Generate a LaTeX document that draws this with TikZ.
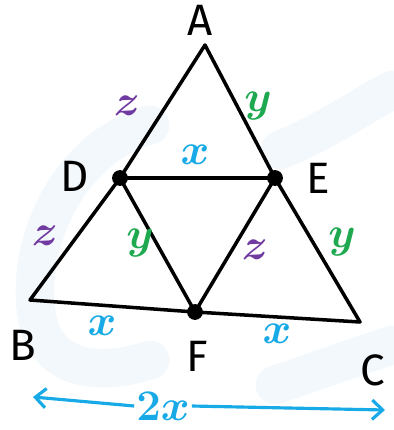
\documentclass[tikz,border=0pt]{standalone}
\usepackage{fontspec}
\setsansfont{Fira Sans}
\usetikzlibrary{positioning,arrows.meta,calc}

\definecolor{zpurple}{RGB}{112,58,160}
\definecolor{ygreen}{RGB}{30,168,80}
\definecolor{xblue}{RGB}{24,170,230}
\definecolor{mark}{RGB}{243,248,252}

\begin{document}
\begin{tikzpicture}[x=0.02cm, y=-0.02cm,
    every node/.style={font=\sffamily\fontsize{25}{28}\selectfont},
    side/.style={line width=2pt, line cap=round, line join=round},
    dot/.style={circle, fill=black, inner sep=0pt, minimum size=9pt},
    zlab/.style={text=zpurple, font=\boldmath\fontsize{27}{28}\selectfont},
    ylab/.style={text=ygreen, font=\boldmath\fontsize{27}{28}\selectfont},
    xlab/.style={text=xblue, font=\boldmath\fontsize{27}{28}\selectfont},
    watermark/.style={draw=mark, line width=22pt, line cap=round},
    >={Straight Barb[length=6pt, width=11pt]}
]
  \useasboundingbox (0,0) rectangle (393,430);

  % faint logo behind the figure
  \draw[watermark] (150,125) .. controls (60,150) and (20,260) .. (40,330)
                   .. controls (60,380) and (120,370) .. (150,360);
  \draw[watermark] (280,150) .. controls (330,130) and (370,100) .. (393,90);
  \draw[watermark] (275,385) .. controls (320,370) and (360,355) .. (393,345);

  % vertices
  \coordinate (A) at (205,45);
  \coordinate (B) at (30,300);
  \coordinate (C) at (360,322);
  \node[dot] (D) at (120,178) {};
  \node[dot] (E) at (275,178) {};
  \node[dot] (F) at (195,312) {};

  \draw[side] (A.center) -- (D.center) -- (B.center)
              -- (F.center) -- (C.center) -- (E.center) -- cycle;
  \draw[side] (D.center) -- (E.center);
  \draw[side] (D.center) -- (F.center) -- (E.center);

  % vertex names
  \node (lA) at (200,20) {A};
  \node (lB) at (23,345) {B};
  \node (lC) at (373,370) {C};
  \node (lD) at (75,176) {D};
  \node (lE) at (318,178) {E};
  \node (lF) at (197,356) {F};

  % side lengths
  \node[zlab] (z1) at (127,106) {$z$};
  \node[ylab] (y1) at (258,106) {$y$};
  \node[xlab] (x1) at (195,155) {$x$};
  \node[zlab] (z2) at (45,236) {$z$};
  \node[ylab] (y2) at (140,243) {$y$};
  \node[zlab] (z3) at (255,250) {$z$};
  \node[ylab] (y3) at (342,242) {$y$};
  \node[xlab] (x2) at (102,326) {$x$};
  \node[xlab] (x3) at (277,334) {$x$};

  % base length
  \node[xlab, inner sep=1pt] (base) at (163,406) {$2x$};
  \coordinate (bl) at (33,397);
  \coordinate (br) at (385,410);
  \draw[xblue, line width=1.8pt, ->] (base.west) -- (bl);
  \draw[xblue, line width=1.8pt, ->] (base.east) -- (br);
\end{tikzpicture}
\end{document}
